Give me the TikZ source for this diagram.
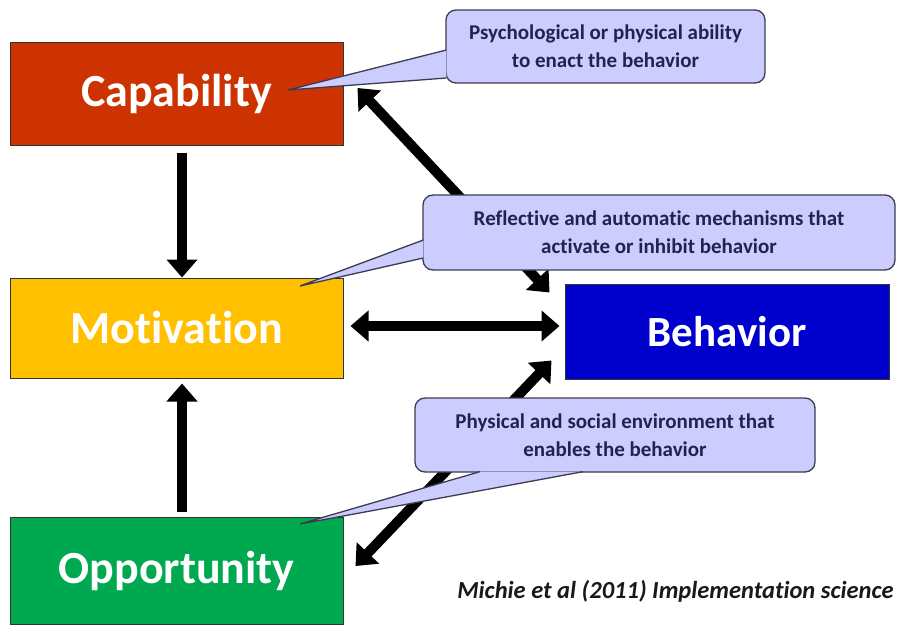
\documentclass[tikz,border=0pt]{standalone}
\usepackage{fontspec}
\setmainfont[Ligatures=NoCommon]{Carlito}
\usepackage{tikz}
\usetikzlibrary{arrows.meta,calc,positioning}
\definecolor{capred}{RGB}{204,51,0}
\definecolor{motyellow}{RGB}{255,192,0}
\definecolor{oppgreen}{RGB}{0,168,80}
\definecolor{behblue}{RGB}{0,0,204}
\definecolor{notefill}{RGB}{204,204,255}
\definecolor{noteline}{RGB}{60,60,80}
\definecolor{notetext}{RGB}{30,35,80}
\tikzset{%
	factor/.style   = {draw=black!80, line width=1pt, rectangle, minimum width=333pt, inner sep=0pt, text=white, font=\fontsize{46}{48}\selectfont\bfseries},
	bigarrow/.style = {line width=10pt, -{Triangle[width=30pt,length=18pt]}},
	twoway/.style   = {line width=10pt, {Triangle[width=30pt,length=18pt]}-{Triangle[width=30pt,length=18pt]}},
	note/.style     = {draw=noteline, fill=notefill, line width=1.3pt, rounded corners=10pt, inner sep=0pt, align=center, text=notetext, font=\fontsize{21}{28}\selectfont\bfseries},
	tail/.style     = {draw=noteline, fill=notefill, line width=1.3pt, line join=miter},
}

\begin{document}
\begin{tikzpicture}[x=1pt,y=-1pt]
	\useasboundingbox (0,0) rectangle (900,626);
	
	\node[factor, fill=capred, minimum height=102pt] (cap) at (176.5,94) {Capability};
	\node[factor, fill=motyellow, minimum height=100pt] (mot) at (176.5,328) {Motivation};
	\node[factor, fill=oppgreen, minimum height=107pt] (opp) at (176.5,571) {Opportunity};
	\node[factor, fill=behblue, minimum width=324pt, minimum height=95pt, font=\fontsize{43}{46}\selectfont\bfseries] (beh) at (727,331.5) {Behavior};
	
	\draw[bigarrow, shorten <=7pt] ([xshift=5.5pt]cap.south) -- ([xshift=5.5pt]mot.north);
	\draw[bigarrow, shorten <=5pt, shorten >=5pt] ([xshift=5.5pt]opp.north) -- ([xshift=5.5pt]mot.south);
	\draw[twoway, shorten <=7pt, shorten >=5pt] ([yshift=2pt]mot.east) -- ([yshift=2pt]mot.east -| beh.west);
	\draw[twoway] ([shift={(14,-6)}]cap.east) -- ([shift={(-15,9)}]beh.north west);
	\draw[twoway] ([shift={(12,-5)}]opp.east) -- ([shift={(-13,-19)}]beh.south west);
	
	% speech bubbles
	\node[note, minimum width=319pt, minimum height=73pt] (n1) at (605.5,46.5) {Psychological or physical ability\\to enact the behavior};
	\coordinate (t1) at (288,90);
	\filldraw[tail] ([shift={(1,3.5)}]n1.west) -- (t1) -- ([shift={(1,31.5)}]n1.west);
	
	\node[note, minimum width=472pt, minimum height=75pt] (n2) at (659,232.5) {Reflective and automatic mechanisms that\\activate or inhibit behavior};
	\coordinate (t2) at (300,286);
	\filldraw[tail] ([shift={(1,7.5)}]n2.west) -- (t2) -- ([shift={(1,25.5)}]n2.west);
	
	\node[note, minimum width=400pt, minimum height=74pt] (n3) at (615,435) {Physical and social environment that\\enables the behavior};
	\coordinate (t3) at (300,524);
	\filldraw[tail] ([shift={(-135,-1)}]n3.south) -- (t3) -- ([shift={(-32,-1)}]n3.south);
	
	\node[anchor=east, text=black!90, font=\fontsize{24.5}{28}\selectfont\bfseries\itshape] (cite) at (897,591) {Michie et al (2011) Implementation science};
\end{tikzpicture}
\end{document}
